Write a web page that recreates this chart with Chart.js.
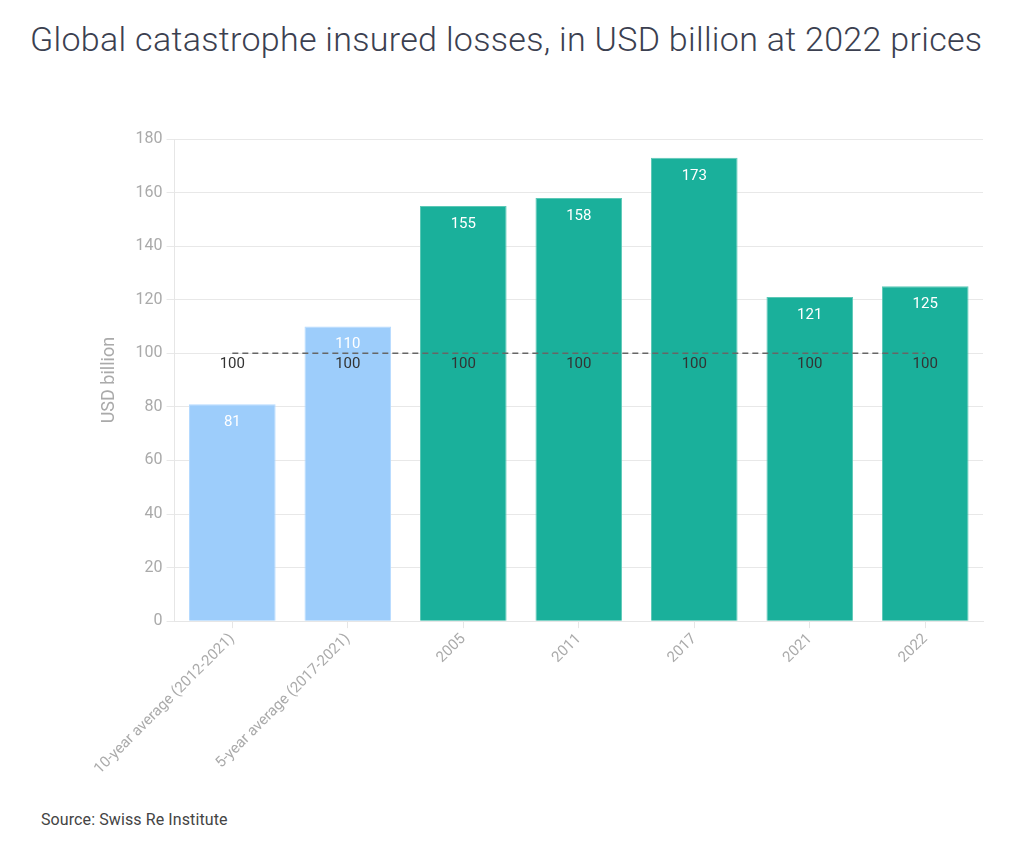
<!DOCTYPE html>
<html>
<head>
<meta charset="utf-8">
<script src="https://cdn.jsdelivr.net/npm/chart.js@4"></script>
<style>
  html, body { margin: 0; padding: 0; background: #ffffff; width: 1024px; height: 863px; overflow: hidden; }
  #title { position: absolute; left: 30px; top: 19px; font-family: Roboto, "Liberation Sans", sans-serif; font-weight: 300; font-size: 34px; line-height: 40px; letter-spacing: 0.3px; color: #3b4050; white-space: nowrap; }
  #source { position: absolute; left: 41px; top: 810px; font-family: Roboto, "Liberation Sans", sans-serif; font-size: 16px; letter-spacing: 0.1px; color: #444; }
  #wrap { position: absolute; left: 0; top: 120px; width: 1024px; height: 660px; }
</style>
</head>
<body>
<div id="title">Global catastrophe insured losses, in USD billion at 2022 prices</div>
<div id="wrap"><canvas id="c"></canvas></div>
<div id="source">Source: Swiss Re Institute</div>
<script>
const categories = ["10-year average (2012-2021)", "5-year average (2017-2021)", "2005", "2011", "2017", "2021", "2022"];
const losses = [81, 110, 155, 158, 173, 121, 125];
const reference = [100, 100, 100, 100, 100, 100, 100];
const barColors = ["#9dcdfb", "#9dcdfb", "#1ab09b", "#1ab09b", "#1ab09b", "#1ab09b", "#1ab09b"];
const barBorders = ["#b5daff", "#b5daff", "#5cc8b6", "#5cc8b6", "#5cc8b6", "#5cc8b6", "#5cc8b6"];
const yTicks = [0, 20, 40, 60, 80, 100, 120, 140, 160, 180];

const labelPlugin = {
  id: 'valueLabels',
  afterDatasetsDraw(chart) {
    const ctx = chart.ctx;
    ctx.save();
    ctx.font = '15px Roboto, "Liberation Sans", sans-serif';
    ctx.textAlign = 'center';
    ctx.textBaseline = 'middle';
    const barMeta = chart.getDatasetMeta(1);
    barMeta.data.forEach((el, i) => {
      ctx.fillStyle = '#ffffff';
      ctx.fillText(String(chart.data.datasets[1].data[i]), el.x, el.y + 18);
    });
    const lineMeta = chart.getDatasetMeta(0);
    lineMeta.data.forEach((el, i) => {
      ctx.fillStyle = '#333333';
      ctx.fillText(String(chart.data.datasets[0].data[i]), el.x, el.y + 11);
    });
    ctx.restore();
  }
};

new Chart(document.getElementById('c'), {
  type: 'bar',
  data: {
    labels: categories,
    datasets: [
      {
        type: 'line',
        data: reference,
        borderColor: '#666666',
        borderWidth: 1.5,
        borderDash: [6, 4],
        pointRadius: 0,
        fill: false,
        order: 0
      },
      {
        type: 'bar',
        data: losses,
        backgroundColor: barColors,
        borderColor: barBorders,
        borderWidth: 1,
        categoryPercentage: 0.75,
        barPercentage: 1.0,
        order: 1
      }
    ]
  },
  options: {
    responsive: true,
    maintainAspectRatio: false,
    animation: false,
    layout: { padding: { left: 99, right: 41, top: 19, bottom: 0 } },
    plugins: { legend: { display: false }, tooltip: { enabled: false } },
    scales: {
      x: {
        grid: { display: true, offset: false, drawOnChartArea: false, drawTicks: true, tickLength: 7, color: '#e6e6e6' },
        border: { color: '#e6e6e6' },
        ticks: {
          color: '#aaaaaa',
          font: { family: 'Roboto, "Liberation Sans", sans-serif', size: 15 },
          maxRotation: 45, minRotation: 45, padding: 2
        }
      },
      y: {
        min: 0, max: 180,
        afterBuildTicks(axis) { axis.ticks = yTicks.map(v => ({ value: v })); },
        grid: { color: '#e8e8e8', tickLength: 8 },
        border: { color: '#e6e6e6' },
        ticks: {
          color: '#aaaaaa',
          font: { family: 'Roboto, "Liberation Sans", sans-serif', size: 16 },
          padding: 4
        },
        title: {
          display: true, text: 'USD billion', color: '#aaaaaa',
          font: { family: 'Roboto, "Liberation Sans", sans-serif', size: 18 },
          padding: { top: 0, bottom: 11 }
        }
      }
    }
  },
  plugins: [labelPlugin]
});
</script>
</body>
</html>
